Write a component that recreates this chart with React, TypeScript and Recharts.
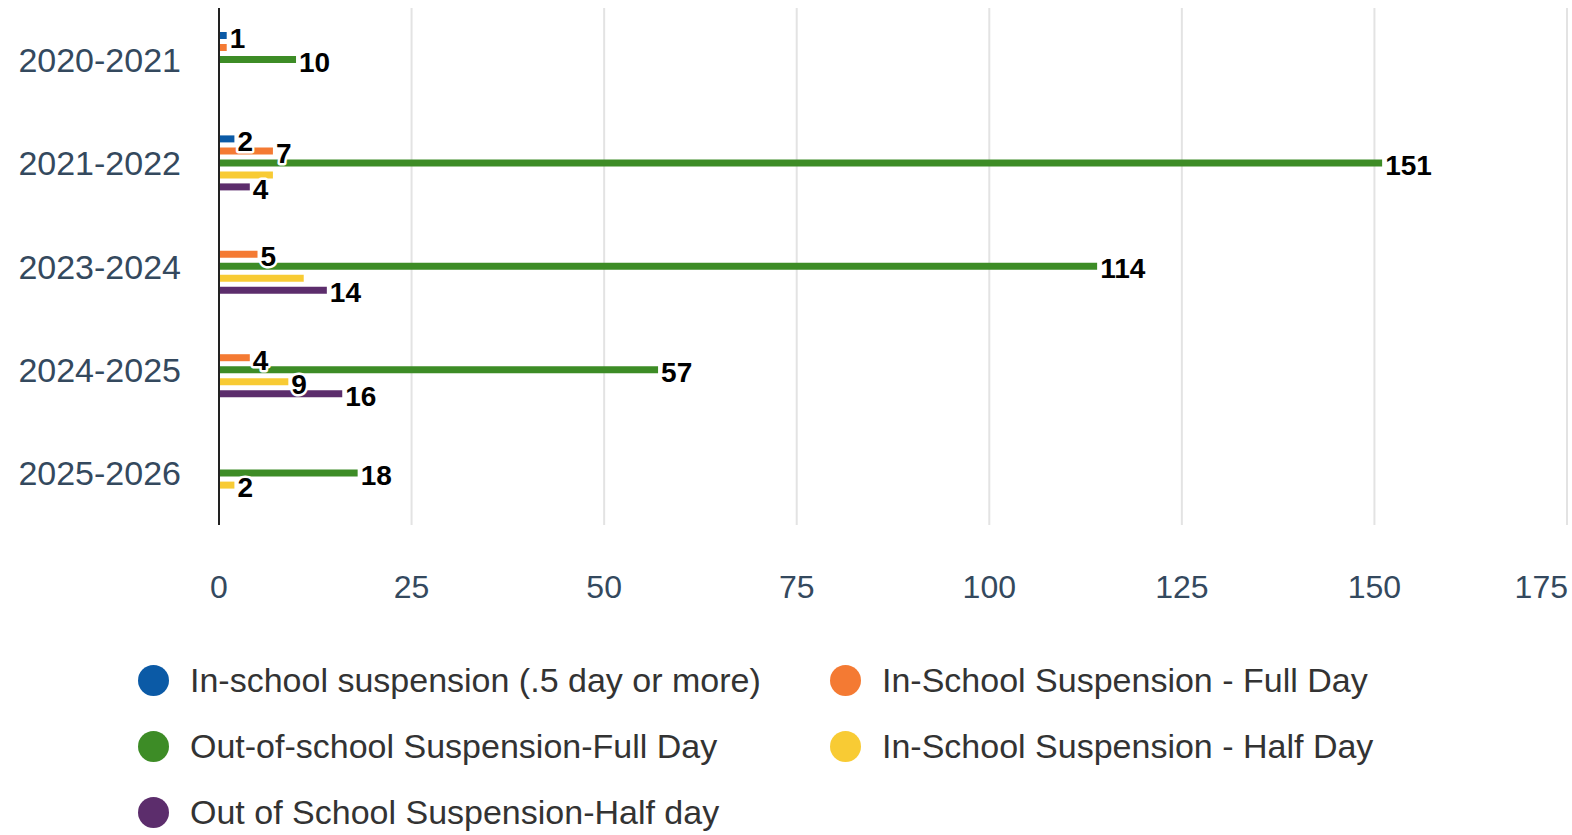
import { BarChart, Bar, XAxis, YAxis, CartesianGrid, LabelList } from "recharts";

const years = ["2020-2021", "2021-2022", "2023-2024", "2024-2025", "2025-2026"];

const seriesNames = [
  "In-school suspension (.5 day or more)",
  "In-School Suspension - Full Day",
  "Out-of-school Suspension-Full Day",
  "In-School Suspension - Half Day",
  "Out of School Suspension-Half day",
];

const seriesColors = ["#0b5aa6", "#f47a33", "#3d8c26", "#f8cb34", "#5c2d6c"];

// null = no bar for that year
const issHalfOrMore = [1, 2, null, null, null];
const issFullDay = [1, 7, 5, 4, null];
const ossFullDay = [10, 151, 114, 57, 18];
const issHalfDay = [null, 7, 11, 9, 2];
const ossHalfDay = [null, 4, 14, 16, null];

const xTicks = [0, 25, 50, 75, 100, 125, 150, 175];

// labels the original chart drops because they collide with a neighbour: [year, series index]
const hiddenLabels: [string, number][] = [
  ["2020-2021", 1],
  ["2021-2022", 3],
  ["2023-2024", 3],
];

const seriesValues = [issHalfOrMore, issFullDay, ossFullDay, issHalfDay, ossHalfDay];

const data = years.map((year, i) => {
  const row: Record<string, string | number | null> = { year };
  seriesValues.forEach((vals, s) => {
    row[`s${s}`] = vals[i];
    const hidden = hiddenLabels.some(([y, k]) => y === year && k === s);
    row[`l${s}`] = hidden ? null : vals[i];
  });
  return row;
});

const FONT = '"Liberation Sans", Arial, Helvetica, sans-serif';
const AXIS_COLOR = "#34495e";

const BarLabel = (props: any) => {
  const { x, y, width, height, value } = props;
  if (value == null) return null;
  return (
    <text
      x={Number(x) + Number(width) + 3}
      y={Number(y) + Number(height) / 2 + 2}
      dy="0.36em"
      fill="#000"
      stroke="#fff"
      strokeWidth={5}
      strokeLinejoin="round"
      paintOrder="stroke"
      fontFamily={FONT}
      fontSize={28}
      fontWeight="bold"
    >
      {value}
    </text>
  );
};

const XTick = (props: any) => {
  const { x, y, payload } = props;
  const last = payload.value === xTicks[xTicks.length - 1];
  return (
    <text
      x={last ? 1568 : x}
      y={y}
      dy="0.71em"
      textAnchor={last ? "end" : "middle"}
      fill={AXIS_COLOR}
      fontFamily={FONT}
      fontSize={32}
    >
      {payload.value}
    </text>
  );
};

export default function App() {
  return (
    <div style={{ position: "absolute", left: 0, top: 0, width: 1572, height: 835, background: "#fff", fontFamily: FONT }}>
      <BarChart
        width={1572}
        height={620}
        data={data}
        layout="vertical"
        margin={{ top: 8, right: 5, left: 0, bottom: 0 }}
        barSize={7}
        barGap={5}
      >
        <CartesianGrid horizontal={false} stroke="#e3e3e3" strokeWidth={2} />
        <XAxis
          type="number"
          domain={[0, 175]}
          ticks={xTicks}
          axisLine={false}
          tickLine={false}
          tickMargin={44}
          height={95}
          tick={<XTick />}
          interval={0}
        />
        <YAxis
          type="category"
          dataKey="year"
          width={219}
          axisLine={{ stroke: "#222", strokeWidth: 2 }}
          tickLine={false}
          tickMargin={32}
          tick={{ fill: AXIS_COLOR, fontSize: 34, fontFamily: FONT }}
        />
        {seriesNames.map((name, s) => (
          <Bar key={name} dataKey={`s${s}`} name={name} fill={seriesColors[s]} isAnimationActive={false}>
            <LabelList dataKey={`l${s}`} content={<BarLabel />} />
          </Bar>
        ))}
      </BarChart>
      <div style={{ position: "absolute", left: 138, top: 647, width: 1400, display: "flex", flexWrap: "wrap" }}>
        {seriesNames.map((name, s) => (
          <div key={name} style={{ width: 692, height: 66, display: "flex", alignItems: "center" }}>
            <span
              style={{
                width: 31,
                height: 31,
                borderRadius: "50%",
                background: seriesColors[s],
                marginRight: 21,
                flexShrink: 0,
              }}
            />
            <span style={{ fontSize: 34, color: "#333", whiteSpace: "nowrap" }}>{name}</span>
          </div>
        ))}
      </div>
    </div>
  );
}
